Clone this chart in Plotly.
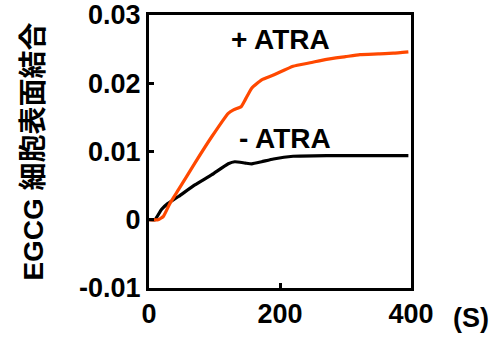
import plotly.graph_objects as go

t_plus = [0, 14, 22, 32, 45, 70, 96, 121, 129, 141, 147, 157, 172, 190, 220, 246, 271, 300, 322, 350, 373, 396]
v_plus = [0, 0, 0.0005, 0.0024, 0.0044, 0.0083, 0.0122, 0.0156, 0.0161, 0.0166, 0.0176, 0.0193, 0.0205, 0.0212,
          0.0225, 0.0230, 0.0235, 0.0239, 0.0242, 0.0243, 0.0244, 0.0246]

t_minus = [0, 9, 19, 29, 45, 70, 96, 121, 131, 147, 157, 172, 190, 220, 271, 300, 350, 396]
v_minus = [0, 0, 0.0015, 0.0024, 0.0034, 0.0051, 0.0066, 0.0082, 0.0085, 0.0083, 0.0082, 0.0085, 0.0089,
           0.0093, 0.0094, 0.0094, 0.0094, 0.0094]

x_ticks = [0, 200, 400]
x_ticktext = ["0", "200", "400"]
y_ticks = [-0.01, 0, 0.01, 0.02, 0.03]
y_ticktext = ["-0.01", "0", "0.01", "0.02", "0.03"]

font = "Liberation Sans, Arial, Noto Sans CJK JP, sans-serif"

fig = go.Figure()
fig.add_trace(go.Scatter(x=t_minus, y=v_minus, mode="lines",
                         line=dict(color="#000000", width=3.2, shape="spline", smoothing=0.4),
                         showlegend=False))
fig.add_trace(go.Scatter(x=t_plus, y=v_plus, mode="lines",
                         line=dict(color="#FF4800", width=3.2, shape="spline", smoothing=0.4),
                         showlegend=False))

fig.add_annotation(x=0.5, y=0.912, xref="paper", yref="paper", text="<b>+ ATRA</b>",
                   showarrow=False, xanchor="center", yanchor="middle",
                   font=dict(size=28, color="black", family=font))
fig.add_annotation(x=0.519, y=0.549, xref="paper", yref="paper", text="<b>- ATRA</b>",
                   showarrow=False, xanchor="center", yanchor="middle",
                   font=dict(size=28, color="black", family=font))
fig.add_annotation(x=1.0, y=0, xref="paper", yref="paper", text="<b>(S)</b>",
                   showarrow=False, xanchor="left", yanchor="middle", xshift=40, yshift=-30,
                   font=dict(size=27, color="black", family=font))

fig.update_layout(
    width=490, height=337,
    margin=dict(l=149, r=79, t=15, b=49),
    plot_bgcolor="white", paper_bgcolor="white",
    font=dict(family=font, size=27, color="black"),
)
fig.update_xaxes(range=[0, 400], tickvals=x_ticks, ticktext=[f"<b>{s}</b>" for s in x_ticktext],
                 showline=True, linecolor="black", linewidth=3, mirror=True,
                 ticks="inside", ticklen=5, tickwidth=3, tickcolor="black",
                 showgrid=False, zeroline=False, tickfont=dict(size=27), automargin=False,
                 ticklabeloverflow="allow")
fig.update_yaxes(range=[-0.01, 0.03], tickvals=y_ticks, ticktext=[f"<b>{s}</b>" for s in y_ticktext],
                 showline=True, linecolor="black", linewidth=3, mirror=True,
                 ticks="inside", ticklen=5, tickwidth=3, tickcolor="black",
                 showgrid=False, zeroline=False, tickfont=dict(size=27), automargin=False,
                 ticklabeloverflow="allow",
                 title=dict(text="<b>EGCG 細胞表面結合</b>", font=dict(size=28), standoff=28))

fig.write_html("out.html", config={"displayModeBar": False},
               post_script="document.body.style.margin='0px';")
